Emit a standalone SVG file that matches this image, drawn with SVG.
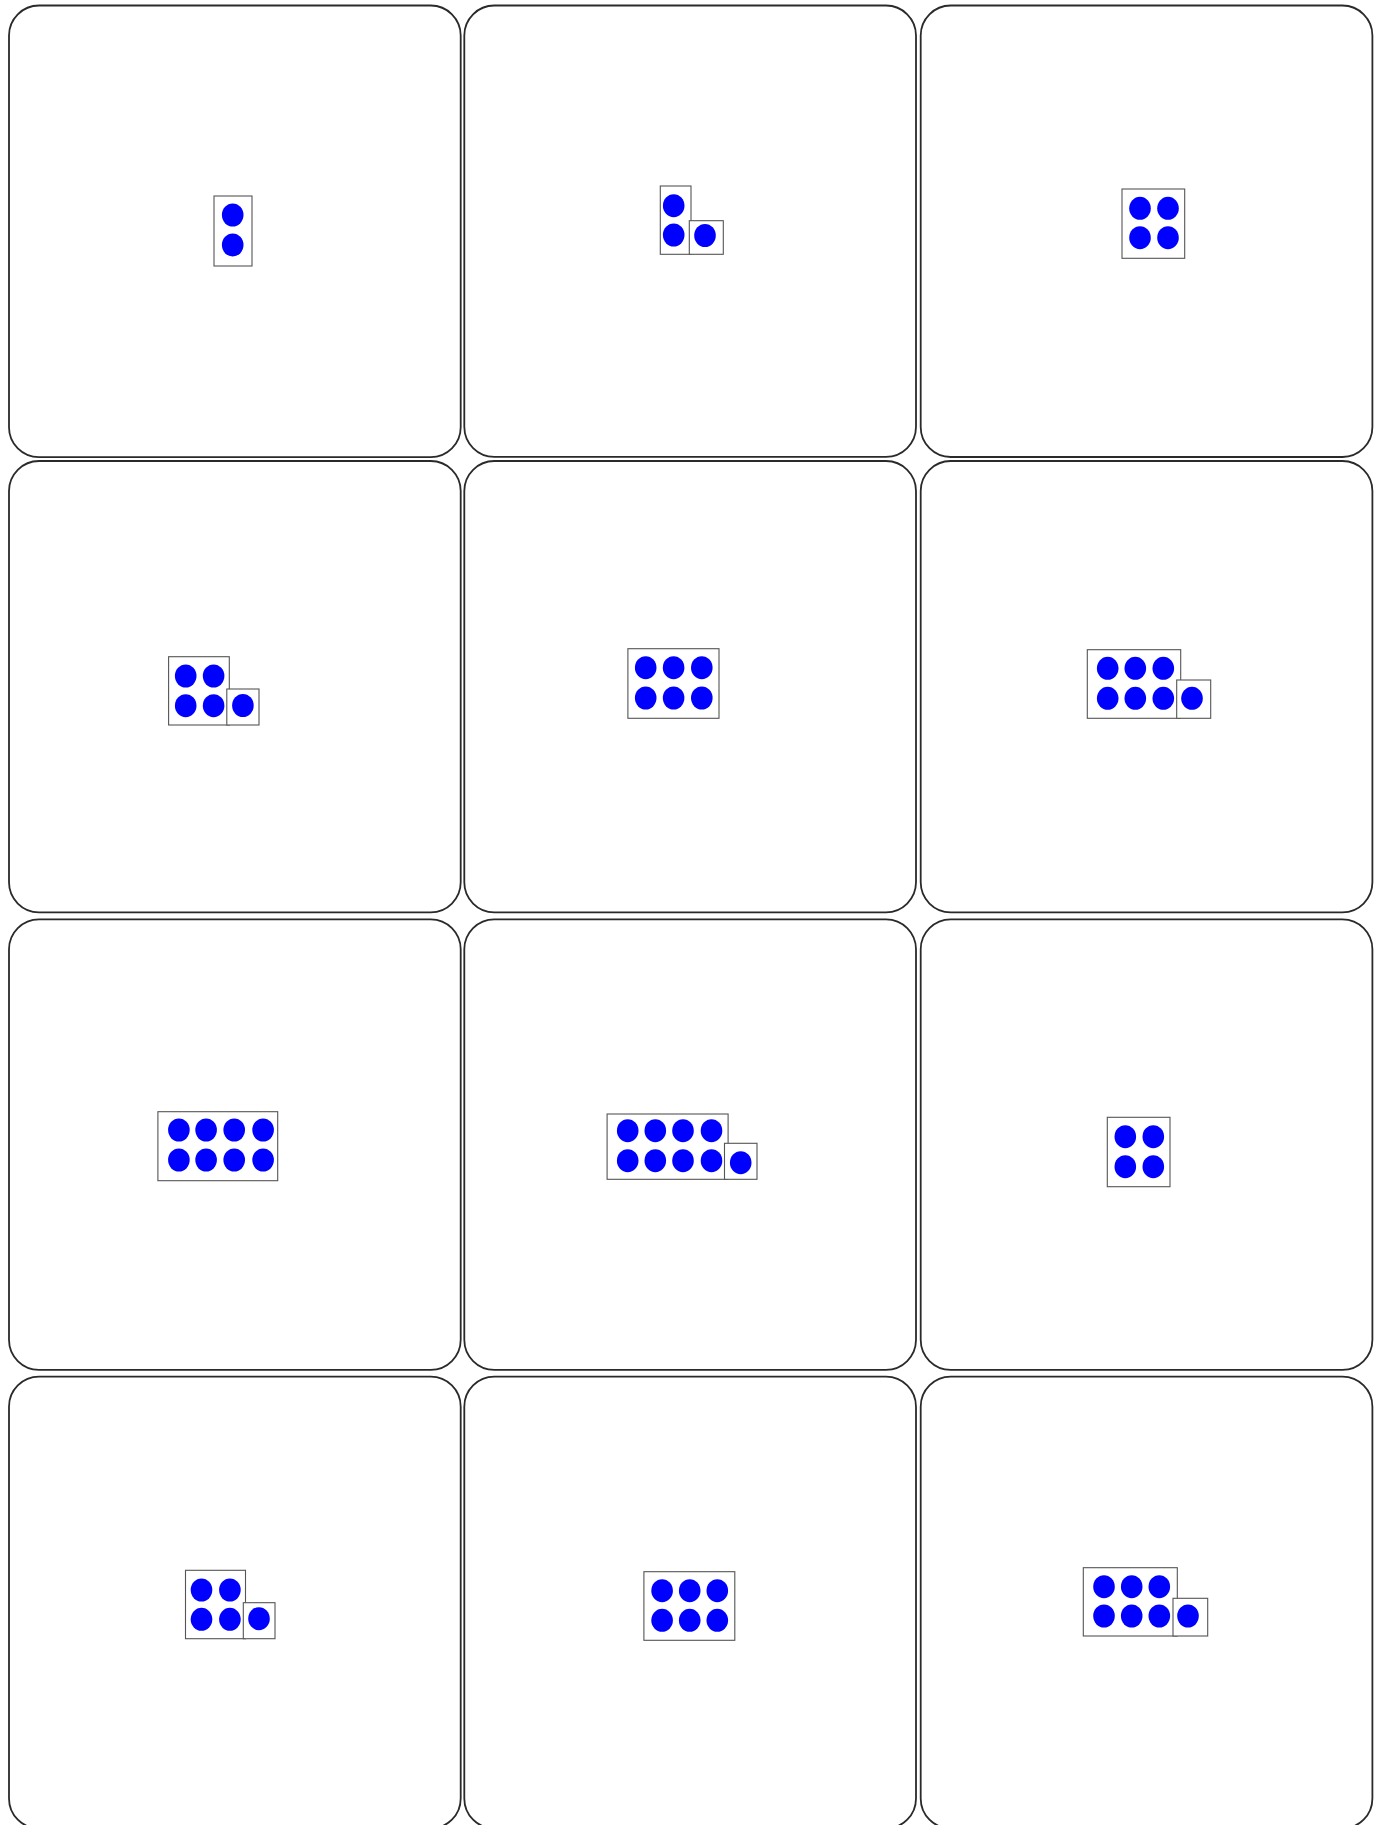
<svg xmlns="http://www.w3.org/2000/svg" width="1379" height="1825" viewBox="0 0 1379 1825">
<style>
.card{fill:#fff;stroke:#2a2a2a;stroke-width:1.8}
.box{fill:#fff;stroke:#555;stroke-width:1.1}
.dot{fill:#0000ff}
</style>
<rect width="1379" height="1825" fill="#fff"/>
<g id="cards">
<rect id="card1" class="card" x="9" y="5.5" width="451.7" height="451.7" rx="30"/>
<rect id="card2" class="card" x="464.3" y="5.5" width="451.7" height="451.3" rx="30"/>
<rect id="card3" class="card" x="920.7" y="5.5" width="451.7" height="451.5" rx="30"/>
<rect id="card4" class="card" x="9" y="461" width="451.7" height="451.3" rx="30"/>
<rect id="card5" class="card" x="464.3" y="461" width="451.7" height="451.3" rx="30"/>
<rect id="card6" class="card" x="920.7" y="461" width="451.7" height="451.3" rx="30"/>
<rect id="card7" class="card" x="9" y="919.3" width="451.7" height="450.5" rx="30"/>
<rect id="card8" class="card" x="464.3" y="919.3" width="451.7" height="450.5" rx="30"/>
<rect id="card9" class="card" x="920.7" y="919.3" width="451.7" height="450.5" rx="30"/>
<rect id="card10" class="card" x="9" y="1376.7" width="451.7" height="451.7" rx="30"/>
<rect id="card11" class="card" x="464.3" y="1376.7" width="451.7" height="451.7" rx="30"/>
<rect id="card12" class="card" x="920.7" y="1376.7" width="451.7" height="451.7" rx="30"/>
</g>
<g id="frame1">
<rect class="box" x="214" y="196" width="38" height="70"/>
<ellipse class="dot" cx="232.7" cy="215" rx="10.8" ry="11.5"/>
<ellipse class="dot" cx="232.7" cy="245" rx="10.8" ry="11.5"/>
</g>
<g id="frame2">
<rect class="box" x="660.3" y="186" width="30.7" height="68.3"/>
<rect class="box" x="689.3" y="220.7" width="34" height="33.6"/>
<ellipse class="dot" cx="673.7" cy="205.7" rx="10.8" ry="11.5"/>
<ellipse class="dot" cx="673.7" cy="235" rx="10.8" ry="11.5"/>
<ellipse class="dot" cx="705" cy="235.5" rx="10.8" ry="11.5"/>
</g>
<g id="frame3">
<rect class="box" x="1122" y="189" width="62.7" height="69.3"/>
<ellipse class="dot" cx="1140" cy="208.3" rx="10.8" ry="11.5"/>
<ellipse class="dot" cx="1168" cy="208.3" rx="10.8" ry="11.5"/>
<ellipse class="dot" cx="1140" cy="237.7" rx="10.8" ry="11.5"/>
<ellipse class="dot" cx="1168" cy="237.7" rx="10.8" ry="11.5"/>
</g>
<g id="frame4">
<rect class="box" x="168.6" y="656.7" width="60.7" height="68.3"/>
<rect class="box" x="226.8" y="689" width="32.2" height="36"/>
<ellipse class="dot" cx="185.7" cy="676" rx="10.8" ry="11.5"/>
<ellipse class="dot" cx="213.6" cy="676" rx="10.8" ry="11.5"/>
<ellipse class="dot" cx="185.7" cy="705.7" rx="10.8" ry="11.5"/>
<ellipse class="dot" cx="213.6" cy="705.7" rx="10.8" ry="11.5"/>
<ellipse class="dot" cx="242.9" cy="705.5" rx="10.8" ry="11.5"/>
</g>
<g id="frame5">
<rect class="box" x="627.9" y="648.7" width="91.1" height="69.6"/>
<ellipse class="dot" cx="645.7" cy="667.7" rx="10.8" ry="11.5"/>
<ellipse class="dot" cx="673.6" cy="667.7" rx="10.8" ry="11.5"/>
<ellipse class="dot" cx="701.8" cy="667.7" rx="10.8" ry="11.5"/>
<ellipse class="dot" cx="645.7" cy="698" rx="10.8" ry="11.5"/>
<ellipse class="dot" cx="673.6" cy="698" rx="10.8" ry="11.5"/>
<ellipse class="dot" cx="701.8" cy="698" rx="10.8" ry="11.5"/>
</g>
<g id="frame6">
<rect class="box" x="1087.3" y="649.7" width="93.4" height="68.6"/>
<rect class="box" x="1176.7" y="680" width="34" height="38.3"/>
<ellipse class="dot" cx="1107.7" cy="668.3" rx="10.8" ry="11.5"/>
<ellipse class="dot" cx="1135.3" cy="668.3" rx="10.8" ry="11.5"/>
<ellipse class="dot" cx="1163.3" cy="668.3" rx="10.8" ry="11.5"/>
<ellipse class="dot" cx="1107.7" cy="698.3" rx="10.8" ry="11.5"/>
<ellipse class="dot" cx="1135.3" cy="698.3" rx="10.8" ry="11.5"/>
<ellipse class="dot" cx="1163.3" cy="698.3" rx="10.8" ry="11.5"/>
<ellipse class="dot" cx="1192" cy="698.3" rx="10.8" ry="11.5"/>
</g>
<g id="frame7">
<rect class="box" x="157.9" y="1111.7" width="119.8" height="69"/>
<ellipse class="dot" cx="178.9" cy="1130" rx="10.8" ry="11.5"/>
<ellipse class="dot" cx="206.1" cy="1130" rx="10.8" ry="11.5"/>
<ellipse class="dot" cx="234.2" cy="1130" rx="10.8" ry="11.5"/>
<ellipse class="dot" cx="263.1" cy="1130" rx="10.8" ry="11.5"/>
<ellipse class="dot" cx="178.9" cy="1160" rx="10.8" ry="11.5"/>
<ellipse class="dot" cx="206.1" cy="1160" rx="10.8" ry="11.5"/>
<ellipse class="dot" cx="234.2" cy="1160" rx="10.8" ry="11.5"/>
<ellipse class="dot" cx="263.1" cy="1160" rx="10.8" ry="11.5"/>
</g>
<g id="frame8">
<rect class="box" x="607.1" y="1114" width="121" height="65.3"/>
<rect class="box" x="724.5" y="1143.3" width="32.5" height="36"/>
<ellipse class="dot" cx="627.7" cy="1130.7" rx="10.8" ry="11.5"/>
<ellipse class="dot" cx="655.3" cy="1130.7" rx="10.8" ry="11.5"/>
<ellipse class="dot" cx="683" cy="1130.7" rx="10.8" ry="11.5"/>
<ellipse class="dot" cx="711.5" cy="1130.7" rx="10.8" ry="11.5"/>
<ellipse class="dot" cx="627.7" cy="1160.7" rx="10.8" ry="11.5"/>
<ellipse class="dot" cx="655.3" cy="1160.7" rx="10.8" ry="11.5"/>
<ellipse class="dot" cx="683" cy="1160.7" rx="10.8" ry="11.5"/>
<ellipse class="dot" cx="711.5" cy="1160.7" rx="10.8" ry="11.5"/>
<ellipse class="dot" cx="740.7" cy="1162.7" rx="10.8" ry="11.5"/>
</g>
<g id="frame9">
<rect class="box" x="1107.3" y="1117.3" width="62.7" height="69.4"/>
<ellipse class="dot" cx="1125.3" cy="1136.7" rx="10.8" ry="11.5"/>
<ellipse class="dot" cx="1153.3" cy="1136.7" rx="10.8" ry="11.5"/>
<ellipse class="dot" cx="1125.3" cy="1166.7" rx="10.8" ry="11.5"/>
<ellipse class="dot" cx="1153.3" cy="1166.7" rx="10.8" ry="11.5"/>
</g>
<g id="frame10">
<rect class="box" x="185.5" y="1570.3" width="60" height="68.4"/>
<rect class="box" x="243.3" y="1602.7" width="31.7" height="36"/>
<ellipse class="dot" cx="201.5" cy="1590" rx="10.8" ry="11.5"/>
<ellipse class="dot" cx="229.9" cy="1590" rx="10.8" ry="11.5"/>
<ellipse class="dot" cx="201.5" cy="1619.3" rx="10.8" ry="11.5"/>
<ellipse class="dot" cx="229.9" cy="1619.3" rx="10.8" ry="11.5"/>
<ellipse class="dot" cx="259" cy="1618.7" rx="10.8" ry="11.5"/>
</g>
<g id="frame11">
<rect class="box" x="643.9" y="1571.7" width="90.9" height="68.6"/>
<ellipse class="dot" cx="662.1" cy="1590.7" rx="10.8" ry="11.5"/>
<ellipse class="dot" cx="689.7" cy="1590.7" rx="10.8" ry="11.5"/>
<ellipse class="dot" cx="717.3" cy="1590.7" rx="10.8" ry="11.5"/>
<ellipse class="dot" cx="662.1" cy="1620.3" rx="10.8" ry="11.5"/>
<ellipse class="dot" cx="689.7" cy="1620.3" rx="10.8" ry="11.5"/>
<ellipse class="dot" cx="717.3" cy="1620.3" rx="10.8" ry="11.5"/>
</g>
<g id="frame12">
<rect class="box" x="1083.3" y="1567.7" width="94" height="68.3"/>
<rect class="box" x="1173" y="1598.3" width="34.7" height="37.7"/>
<ellipse class="dot" cx="1104" cy="1586.7" rx="10.8" ry="11.5"/>
<ellipse class="dot" cx="1131.7" cy="1586.7" rx="10.8" ry="11.5"/>
<ellipse class="dot" cx="1159.3" cy="1586.7" rx="10.8" ry="11.5"/>
<ellipse class="dot" cx="1104" cy="1616" rx="10.8" ry="11.5"/>
<ellipse class="dot" cx="1131.7" cy="1616" rx="10.8" ry="11.5"/>
<ellipse class="dot" cx="1159.3" cy="1616" rx="10.8" ry="11.5"/>
<ellipse class="dot" cx="1188" cy="1616" rx="10.8" ry="11.5"/>
</g>
<g id="connectors"/>
</svg>
